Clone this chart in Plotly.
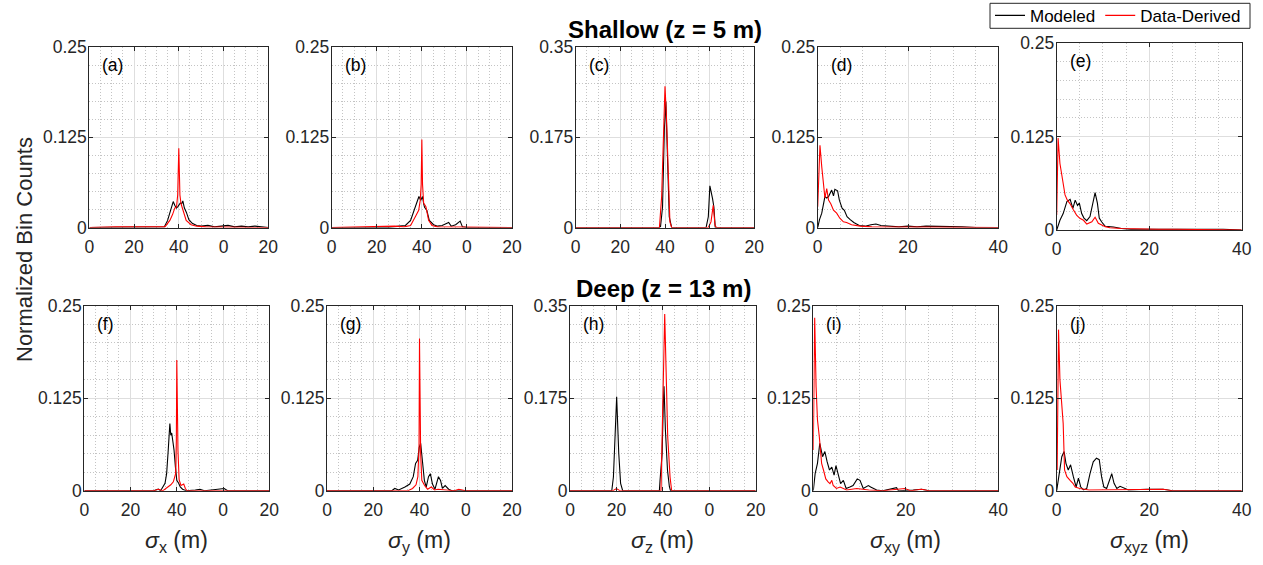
import plotly.graph_objects as go

# ---------------- data ----------------
# x tick labels
ticks_cols123_vals = [0, 20, 40, 60, 80]
ticks_cols123_text = ["0", "20", "40", "0", "20"]
ticks_cols45_vals = [0, 20, 40]
ticks_cols45_text = ["0", "20", "40"]
yticks_std = [0, 0.125, 0.25]
yticks_std_text = ["0", "0.125", "0.25"]
yticks_z = [0, 0.175, 0.35]
yticks_z_text = ["0", "0.175", "0.35"]

# (a) sigma_x shallow
a_mod_x = [0, 30, 33.5, 35, 36.2, 37.0, 37.5, 38.2, 38.9, 39.6, 40.2, 40.7, 41.3, 41.8, 42.5, 43.4, 44.5, 46, 48, 50, 53, 56, 59, 62, 65, 68, 71, 74, 80]
a_mod_y = [0, 0, 0.001, 0.010, 0.024, 0.030, 0.036, 0.031, 0.027, 0.029, 0.031, 0.034, 0.033, 0.037, 0.027, 0.021, 0.011, 0.006, 0.003, 0.002, 0.003, 0.001, 0.002, 0.003, 0.001, 0.002, 0.001, 0.002, 0]
a_dd_x = [0, 8, 12, 33.8, 36, 37.2, 38.2, 39.0, 39.5, 40.0, 40.5, 41.0, 41.9, 43.3, 45.5, 48, 52, 80]
a_dd_y = [0, 0.001, 0.001, 0.001, 0.010, 0.018, 0.027, 0.029, 0.045, 0.110, 0.045, 0.033, 0.024, 0.010, 0.004, 0.002, 0.001, 0]

# (b) sigma_y shallow
b_mod_x = [0, 25, 30, 32.7, 35, 36.5, 37.3, 38, 38.7, 39.5, 40.3, 40.8, 41.2, 42.2, 43.3, 45.2, 47, 49, 51.9, 53, 55, 57, 58, 60, 80]
b_mod_y = [0, 0, 0.002, 0.003, 0.010, 0.024, 0.030, 0.035, 0.043, 0.038, 0.043, 0.033, 0.028, 0.024, 0.010, 0.004, 0.002, 0.003, 0.007, 0.002, 0.004, 0.009, 0.001, 0, 0]
b_dd_x = [0, 25, 28, 32, 35, 37.1, 38.6, 39.3, 39.7, 40.0, 40.3, 40.8, 41.8, 43, 44.5, 47, 80]
b_dd_y = [0, 0.001, 0.002, 0.001, 0.003, 0.015, 0.024, 0.038, 0.060, 0.122, 0.060, 0.034, 0.029, 0.010, 0.003, 0.001, 0]

# (c) sigma_z shallow
c_mod_x = [0, 37.5, 38, 38.9, 39.7, 40.4, 41.2, 41.9, 43, 58.4, 59.4, 60.1, 61.3, 61.9, 62.5, 80]
c_mod_y = [0, 0, 0.002, 0.040, 0.189, 0.244, 0.124, 0.021, 0, 0, 0.021, 0.081, 0.056, 0.040, 0, 0]
c_dd_x = [0, 37.5, 38.5, 39.3, 40, 40.7, 41.5, 42.2, 43, 59.4, 60.6, 61.6, 62.4, 63, 80]
c_dd_y = [0, 0, 0.060, 0.189, 0.274, 0.209, 0.092, 0.011, 0, 0, 0.011, 0.043, 0.005, 0, 0]

# (d) sigma_xy shallow
d_mod_x = [0, 0.4, 0.9, 1.6, 2.0, 2.4, 3.1, 3.5, 3.8, 4.4, 4.8, 5.4, 5.9, 6.5, 7.2, 8, 9.2, 10.5, 11.8, 12.9, 14, 16, 18, 20, 22, 24, 26, 28, 30, 32, 35, 40]
d_mod_y = [0, 0.011, 0.020, 0.043, 0.041, 0.043, 0.052, 0.044, 0.053, 0.051, 0.038, 0.027, 0.024, 0.015, 0.011, 0.007, 0.003, 0.002, 0.004, 0.005, 0.003, 0.002, 0.001, 0.002, 0.001, 0.002, 0.002, 0.001, 0.002, 0.001, 0, 0]
d_dd_x = [0, 0.5, 0.9, 1.3, 1.6, 2.0, 2.4, 2.9, 3.5, 4.2, 4.9, 5.7, 6.4, 7.5, 9.4, 12, 16, 20, 25, 30, 35, 40]
d_dd_y = [0.029, 0.114, 0.084, 0.057, 0.041, 0.054, 0.038, 0.033, 0.024, 0.020, 0.013, 0.008, 0.007, 0.004, 0.002, 0.001, 0.001, 0.001, 0.001, 0.001, 0.001, 0]

# (e) sigma_xyz shallow
e_mod_x = [0, 0.7, 1.4, 2.2, 2.9, 3.5, 4.0, 4.5, 4.9, 5.4, 5.9, 6.5, 7.2, 7.8, 8.3, 8.8, 9.2, 9.7, 10.5, 12.3, 14, 16, 18, 20, 22, 24, 26, 28, 30, 33, 36, 40]
e_mod_y = [0, 0.013, 0.022, 0.038, 0.041, 0.029, 0.040, 0.033, 0.036, 0.022, 0.016, 0.0125, 0.018, 0.036, 0.050, 0.036, 0.016, 0.011, 0.005, 0.004, 0.002, 0.001, 0.001, 0.002, 0.001, 0.002, 0.001, 0.002, 0.001, 0.001, 0.001, 0]
e_dd_x = [0, 0.3, 0.7, 1.3, 1.8, 2.3, 2.9, 3.6, 4.3, 5.0, 5.8, 6.5, 7.6, 8.3, 9.0, 10.5, 11.5, 14, 18, 22, 26, 30, 35, 40]
e_dd_y = [0.020, 0.123, 0.089, 0.0625, 0.047, 0.040, 0.035, 0.027, 0.020, 0.0156, 0.013, 0.008, 0.011, 0.017, 0.009, 0.0045, 0.003, 0.002, 0.001, 0.001, 0.001, 0.001, 0.001, 0]

# (f) sigma_x deep
f_mod_x = [0, 30, 32, 33, 34.9, 35.6, 36.3, 37.0, 37.4, 37.8, 38.2, 38.8, 39.4, 40.0, 40.8, 41.5, 42.5, 44, 48, 50, 52, 55, 58, 60.5, 62, 80]
f_mod_y = [0, 0, 0.002, 0, 0.010, 0.023, 0.055, 0.091, 0.075, 0.078, 0.069, 0.055, 0.032, 0.014, 0.010, 0.005, 0.002, 0, 0.001, 0.002, 0, 0.001, 0.002, 0.003, 0, 0]
f_dd_x = [0, 30, 32, 34, 37.4, 38.5, 39.5, 39.8, 40.0, 40.5, 41.0, 41.8, 43.0, 43.7, 44.4, 80]
f_dd_y = [0, 0, 0.002, 0, 0.008, 0.012, 0.023, 0.068, 0.177, 0.055, 0.015, 0.007, 0.009, 0.003, 0, 0]

# (g) sigma_y deep
g_mod_x = [0, 28, 29.3, 31, 33.7, 35.8, 37.3, 38.3, 39.2, 39.9, 40.5, 41.3, 42.1, 42.9, 43.9, 44.7, 45.6, 46.7, 48.2, 49.1, 49.9, 51.1, 52.6, 54, 80]
g_mod_y = [0, 0, 0.003, 0.001, 0.005, 0.009, 0.019, 0.037, 0.041, 0.059, 0.064, 0.037, 0.014, 0.005, 0.019, 0.023, 0.009, 0.002, 0.019, 0.014, 0.003, 0.007, 0.002, 0, 0]
g_dd_x = [0, 35, 37, 38.5, 39.3, 39.8, 40.0, 40.5, 41.0, 42.2, 43.5, 45.1, 46.5, 48, 55, 57, 60, 80]
g_dd_y = [0, 0, 0.003, 0.008, 0.019, 0.060, 0.206, 0.050, 0.014, 0.007, 0.002, 0.005, 0.001, 0.002, 0, 0.002, 0, 0]

# (h) sigma_z deep
h_mod_x = [0, 18, 18.7, 19.4, 20.1, 21.0, 21.8, 22.7, 38.5, 38.8, 39.7, 40.2, 40.5, 41.1, 42.0, 42.8, 43.3, 80]
h_mod_y = [0, 0, 0.026, 0.102, 0.178, 0.071, 0.014, 0, 0, 0.020, 0.071, 0.165, 0.198, 0.115, 0.039, 0.008, 0, 0]
h_dd_x = [0, 18.5, 20, 21.5, 39.2, 39.9, 40.5, 40.8, 41.4, 42.1, 43.1, 43.8, 80]
h_dd_y = [0, 0, 0.004, 0, 0, 0.134, 0.291, 0.335, 0.228, 0.102, 0.026, 0, 0]

# (i) sigma_xy deep
i_mod_x = [0, 0.4, 0.9, 1.4, 2.0, 2.5, 3.0, 3.5, 4.0, 4.5, 4.9, 5.4, 5.9, 6.5, 7.1, 7.9, 8.6, 9.5, 10.1, 10.8, 11.9, 12.4, 13.0, 13.7, 15, 18, 18.4, 20, 21.6, 23.4, 25, 40]
i_mod_y = [0, 0.023, 0.037, 0.064, 0.046, 0.053, 0.039, 0.028, 0.032, 0.021, 0.034, 0.023, 0.0095, 0.014, 0.003, 0.005, 0.007, 0.016, 0.014, 0.003, 0.007, 0.005, 0.003, 0.001, 0, 0.004, 0, 0, 0.001, 0.002, 0, 0]
i_dd_x = [0, 0.3, 0.6, 0.9, 1.3, 1.8, 2.2, 2.7, 3.2, 3.6, 4.0, 4.3, 5.0, 5.8, 7.2, 9.4, 12, 15, 19.8, 21, 23.4, 25, 40]
i_dd_y = [0.055, 0.234, 0.141, 0.096, 0.073, 0.037, 0.028, 0.016, 0.012, 0.0095, 0.014, 0.007, 0.003, 0.005, 0.001, 0.003, 0.001, 0, 0.003, 0, 0.002, 0, 0]

# (j) sigma_xyz deep
j_mod_x = [0, 0.6, 1.1, 1.6, 2.0, 2.5, 3.0, 3.6, 4.2, 4.7, 5.2, 5.8, 6.5, 7.2, 7.9, 8.6, 9.2, 9.7, 10.2, 10.8, 11.4, 11.9, 12.4, 13.0, 13.7, 14.4, 15.5, 19.5, 23, 25, 40]
j_mod_y = [0, 0.028, 0.046, 0.053, 0.037, 0.028, 0.035, 0.019, 0.005, 0.017, 0.005, 0.001, 0.003, 0.023, 0.039, 0.044, 0.042, 0.019, 0.005, 0.003, 0.014, 0.023, 0.010, 0.003, 0.006, 0.004, 0.001, 0.002, 0.002, 0, 0]
j_dd_x = [0.1, 0.4, 0.7, 1.1, 1.4, 1.7, 2.2, 2.9, 3.5, 4.0, 5.0, 7, 10, 15, 19.5, 21, 23, 25, 40]
j_dd_y = [0.028, 0.218, 0.150, 0.109, 0.091, 0.028, 0.019, 0.014, 0.010, 0.005, 0.003, 0.001, 0.001, 0.001, 0.002, 0.001, 0.002, 0, 0]

panel_labels = ["(a)", "(b)", "(c)", "(d)", "(e)", "(f)", "(g)", "(h)", "(i)", "(j)"]
x_titles = ["x", "y", "z", "xy", "xyz"]
row_titles = ["Shallow (z = 5 m)", "Deep (z = 13 m)"]
series_names = ["Modeled", "Data-Derived"]

# ---------------- layout geometry (pixels) ----------------
W, H = 1263, 565
FONT = "Liberation Sans, Arial, Helvetica, sans-serif"
INK = "#262626"
TICK_SIZE = 17.5

# (left, right, top, bottom) for each panel in pixels
boxes = [
    (89.3, 268.3, 47.0, 227.6), (331.7, 512.0, 47.0, 227.6), (575.7, 754.3, 47.0, 227.6),
    (817.7, 998.3, 47.0, 227.6), (1056.7, 1241.7, 43.3, 230.0),
    (84.3, 269.3, 306.0, 490.7), (327.0, 512.0, 306.0, 490.7), (570.0, 755.7, 306.0, 490.7),
    (813.3, 998.3, 306.0, 490.7), (1056.7, 1241.7, 306.0, 490.7),
]

data = [
    (a_mod_x, a_mod_y, a_dd_x, a_dd_y), (b_mod_x, b_mod_y, b_dd_x, b_dd_y),
    (c_mod_x, c_mod_y, c_dd_x, c_dd_y), (d_mod_x, d_mod_y, d_dd_x, d_dd_y),
    (e_mod_x, e_mod_y, e_dd_x, e_dd_y), (f_mod_x, f_mod_y, f_dd_x, f_dd_y),
    (g_mod_x, g_mod_y, g_dd_x, g_dd_y), (h_mod_x, h_mod_y, h_dd_x, h_dd_y),
    (i_mod_x, i_mod_y, i_dd_x, i_dd_y), (j_mod_x, j_mod_y, j_dd_x, j_dd_y),
]

fig = go.Figure()
LEG_L, LEG_R, LEG_T, LEG_B = 990.0, 1250.0, 3.3, 28.3
layout = dict(
    width=W, height=H, autosize=False,
    margin=dict(l=0, r=0, t=0, b=0, pad=0, autoexpand=False),
    paper_bgcolor="white", plot_bgcolor="white",
    font=dict(family=FONT, color=INK),
    showlegend=True,
    legend=dict(
        orientation="h", x=(LEG_L + LEG_R) / 2 / W - 2 / W, y=1 - (LEG_T + LEG_B) / 2 / H,
        xanchor="center", yanchor="middle",
        bgcolor="rgba(0,0,0,0)", borderwidth=0,
        font=dict(family=FONT, size=17, color="black"),
        tracegroupgap=0, itemwidth=30,
    ),
    shapes=[dict(type="rect", xref="paper", yref="paper",
                 x0=LEG_L / W, x1=LEG_R / W, y0=1 - LEG_B / H, y1=1 - LEG_T / H,
                 line=dict(color=INK, width=1), fillcolor="white", layer="below")],
)
annotations = []

for k in range(10):
    col = k % 5
    l, r, t, b = boxes[k]
    xa = "xaxis" if k == 0 else f"xaxis{k+1}"
    ya = "yaxis" if k == 0 else f"yaxis{k+1}"
    xr = "x" if k == 0 else f"x{k+1}"
    yr = "y" if k == 0 else f"y{k+1}"

    if col < 3:
        xrange_, xtv, xtt = [0, 80], ticks_cols123_vals, ticks_cols123_text
    else:
        xrange_, xtv, xtt = [0, 40], ticks_cols45_vals, ticks_cols45_text
    if col == 2:
        yrange_, ytv, ytt, ydm = [0, 0.35], yticks_z, yticks_z_text, 0.035
    else:
        yrange_, ytv, ytt, ydm = [0, 0.25], yticks_std, yticks_std_text, 0.025

    common = dict(
        showline=True, linecolor=INK, linewidth=1, mirror="ticks",
        ticks="inside", ticklen=4, tickcolor=INK, tickwidth=1,
        showgrid=True, gridcolor="#dedede", gridwidth=1, zeroline=False,
        tickfont=dict(family=FONT, size=TICK_SIZE, color=INK), fixedrange=True,
        tickmode="array", automargin=False,
    )
    layout[xa] = dict(
        common, domain=[l / W, r / W], anchor=yr, range=xrange_,
        tickvals=xtv, ticktext=xtt, ticklabelstandoff=3,
        minor=dict(tickmode="linear", tick0=0, dtick=5, showgrid=True,
                   gridcolor="#c4c4c4", griddash="1px,2px", gridwidth=1, ticks=""),
    )
    layout[ya] = dict(
        common, domain=[1 - b / H, 1 - t / H], anchor=xr, range=yrange_,
        tickvals=ytv, ticktext=ytt, ticklabelstandoff=-2,
        minor=dict(tickmode="linear", tick0=0, dtick=ydm, showgrid=True,
                   gridcolor="#c4c4c4", griddash="1px,2px", gridwidth=1, ticks=""),
    )

    mx, my, dx, dy = data[k]
    fig.add_trace(go.Scatter(x=mx, y=my, mode="lines", name=series_names[0],
                             line=dict(color="black", width=1.1),
                             xaxis=xr, yaxis=yr, showlegend=(k == 0), legendrank=1))
    fig.add_trace(go.Scatter(x=dx, y=dy, mode="lines", name=series_names[1],
                             line=dict(color="#ff0000", width=1.1),
                             xaxis=xr, yaxis=yr, showlegend=(k == 0), legendrank=2))

    annotations.append(dict(
        text=panel_labels[k], xref="paper", yref="paper",
        x=(l + 11) / W, y=1 - (t + 18) / H, xanchor="left", yanchor="middle",
        showarrow=False, font=dict(family=FONT, size=17.5, color="black"),
    ))

# x-axis titles under the bottom row
for col in range(5):
    l, r, t, b = boxes[5 + col]
    annotations.append(dict(
        text=f"<i>σ</i><sub>{x_titles[col]}</sub> (m)", xref="paper", yref="paper",
        x=(l + r) / 2 / W, y=1 - 541 / H, xanchor="center", yanchor="middle",
        showarrow=False, font=dict(family=FONT, size=23, color=INK),
    ))

# row titles
annotations.append(dict(text=f"<b>{row_titles[0]}</b>", xref="paper", yref="paper",
                        x=665 / W, y=1 - 30 / H, xanchor="center", yanchor="middle",
                        showarrow=False, font=dict(family=FONT, size=24, color="black")))
annotations.append(dict(text=f"<b>{row_titles[1]}</b>", xref="paper", yref="paper",
                        x=663 / W, y=1 - 288 / H, xanchor="center", yanchor="middle",
                        showarrow=False, font=dict(family=FONT, size=24, color="black")))
# y-axis title
annotations.append(dict(text="Normalized Bin Counts", xref="paper", yref="paper",
                        x=24 / W, y=1 - 250 / H, xanchor="center", yanchor="middle",
                        textangle=-90, showarrow=False,
                        font=dict(family=FONT, size=22, color=INK)))

layout["annotations"] = annotations
fig.update_layout(**layout)
fig.write_html("out.html", config={"displayModeBar": False},
               post_script="document.body.style.margin='0';")
